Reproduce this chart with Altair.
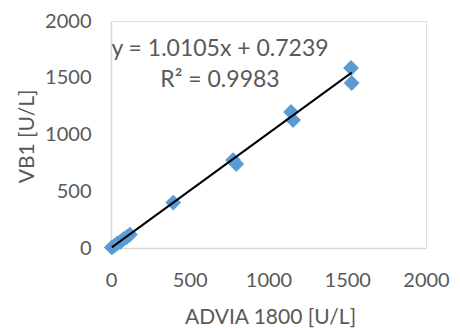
import altair as alt
import pandas as pd

# Data
advia = [5, 20, 40, 60, 80, 100, 120, 395, 775, 795, 1143, 1156, 1524, 1528]
vb1 = [5, 18, 40, 55, 80, 95, 118, 400, 775, 740, 1198, 1128, 1586, 1454]
slope = [1.0105]
intercept = [0.7239]
r2 = [0.9983]
x_ticks = [0, 500, 1000, 1500, 2000]
y_ticks = [0, 500, 1000, 1500, 2000]

pts = pd.DataFrame({"x": advia, "y": vb1})
line_df = pd.DataFrame({"x": [min(advia), max(advia)]})
eq_df = pd.DataFrame({
    "label": [
        f"y = {slope[0]:.4f}x + {intercept[0]:.4f}",
        f"R\u00b2 = {r2[0]:.4f}",
    ],
    "row": [0, 1],
})

FONT = "Lato"
TXT = "#595959"
AX = "#D9D9D9"

xscale = alt.Scale(domain=[0, 2000], nice=False)
yscale = alt.Scale(domain=[0, 2000], nice=False)

xaxis = alt.Axis(
    values=x_ticks, format="d", grid=False, ticks=False, domainColor=AX, domainWidth=1.5,
    labelFont=FONT, labelFontSize=20, labelColor=TXT, labelPadding=22,
    title="ADVIA 1800 [U/L]", titleFont=FONT, titleFontSize=21,
    titleFontWeight="normal", titleColor=TXT, titleBaseline="middle",
    titleX=159, titleY=69, titleAnchor="middle", titleAlign="center",
    labelFlush=False,
)
yaxis = alt.Axis(
    values=y_ticks, format="d", grid=False, ticks=False, domainColor=AX, domainWidth=1.5,
    labelFont=FONT, labelFontSize=20, labelColor=TXT, labelPadding=20,
    title="VB1 [U/L]", titleFont=FONT, titleFontSize=21,
    titleFontWeight="normal", titleColor=TXT, titleBaseline="middle",
    titleX=-84, titleY=115, titleAngle=270, titleAlign="center",
    labelFlush=False,
)

points = alt.Chart(pts).mark_point(
    shape="diamond", filled=True, color="#5B9BD5", size=250, opacity=1
).encode(
    x=alt.X("x:Q", scale=xscale, axis=xaxis),
    y=alt.Y("y:Q", scale=yscale, axis=yaxis),
)

trend = alt.Chart(line_df).transform_calculate(
    y=f"{slope[0]} * datum.x + {intercept[0]}"
).mark_line(color="black", strokeWidth=2).encode(
    x=alt.X("x:Q", scale=xscale),
    y=alt.Y("y:Q", scale=yscale),
)

eq = alt.Chart(eq_df).transform_calculate(
    ypix="28 + datum.row * 31"
).mark_text(
    font=FONT, fontSize=23, color=TXT, align="center", baseline="middle"
).encode(
    x=alt.value(109),
    y=alt.Y("ypix:Q", scale=None),
    text="label:N",
)

chart = alt.layer(points, trend, eq).properties(
    width=315, height=227,
    autosize=alt.AutoSizeParams(type="none"),
    padding={"left": 103, "top": 13, "right": 26, "bottom": 95},
).configure_view(stroke=None).configure(background="white")

chart.save("out.html", embed_options={"renderer": "svg", "actions": False})
